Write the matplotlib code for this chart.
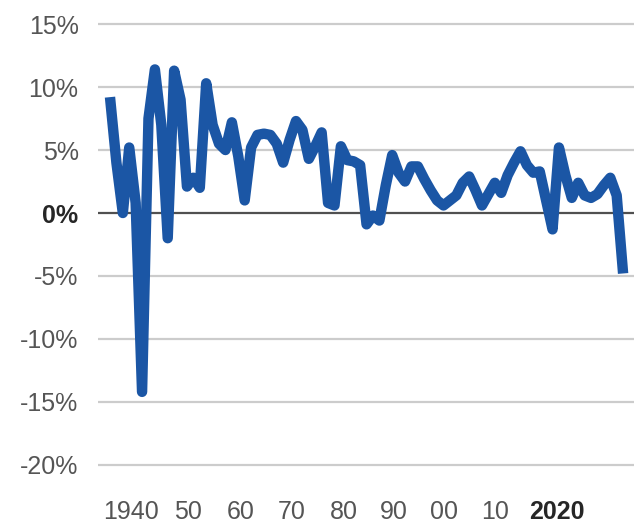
import matplotlib
matplotlib.use('Agg')
import matplotlib.pyplot as plt

# data: annual growth, 1940-2020 (%)
years = list(range(1940, 2021))
growth = [
    9.2, 4.0, 0.0, 5.2, 0.8, -14.2, 7.5, 11.4, 7.0, -2.0,
    11.3, 9.0, 2.1, 2.8, 2.0, 10.3, 7.0, 5.5, 5.0, 7.2,
    4.5, 1.0, 5.2, 6.2, 6.3, 6.2, 5.5, 4.0, 5.8, 7.3,
    6.6, 4.3, 5.3, 6.4, 0.8, 0.6, 5.3, 4.2, 4.1, 3.8,
    -0.9, -0.2, -0.6, 2.2, 4.6, 3.2, 2.5, 3.7, 3.7, 2.7,
    1.8, 1.0, 0.6, 1.0, 1.4, 2.4, 2.9, 1.8, 0.6, 1.5,
    2.4, 1.6, 3.0, 4.0, 4.9, 3.8, 3.2, 3.3, 1.0, -1.3,
    5.2, 3.0, 1.2, 2.4, 1.4, 1.2, 1.5, 2.2, 2.8, 1.4,
    -4.8,
]
x_labels = ['1940', '50', '60', '70', '80', '90', '00', '10', '2020']
# where the labels sit on the year axis in the original
x_label_pos = [1943.3, 1952.2, 1960.4, 1968.4, 1976.4, 1984.2, 1992.1, 2000.1, 2009.6]
y_ticks = [15, 10, 5, 0, -5, -10, -15, -20]

plt.rcParams['font.family'] = ['Liberation Sans', 'DejaVu Sans']

fig = plt.figure(figsize=(6.34, 5.27), dpi=100)
ax = fig.add_axes([98 / 634, 52 / 527, 536 / 634, 461 / 527])

for y in y_ticks:
    if y == 0:
        ax.axhline(y, color='#505050', lw=1.6, zorder=1)
    else:
        ax.axhline(y, color='#cccccc', lw=1.6, zorder=1)

ax.plot(years, growth, color='#1b56a5', lw=7.5, solid_joinstyle='round',
        solid_capstyle='butt', zorder=3)

ax.set_xlim(1938.13, 2021.7)
ax.set_ylim(-20.8, 15.8)

ax.set_yticks(y_ticks)
ax.set_yticklabels([f'{v}%' for v in y_ticks])
ax.set_xticks(x_label_pos)
ax.set_xticklabels(x_labels)
ax.tick_params(axis='both', length=0, labelsize=18, labelcolor='#555555')
ax.tick_params(axis='y', pad=14)
ax.tick_params(axis='x', pad=18)

for lbl in ax.get_yticklabels():
    if lbl.get_text() == '0%':
        lbl.set_fontweight('bold')
        lbl.set_color('#262626')
for lbl in ax.get_xticklabels():
    if lbl.get_text() == '2020':
        lbl.set_fontweight('bold')
        lbl.set_color('#262626')

for s in ax.spines.values():
    s.set_visible(False)

fig.savefig('out.png', dpi=100)
